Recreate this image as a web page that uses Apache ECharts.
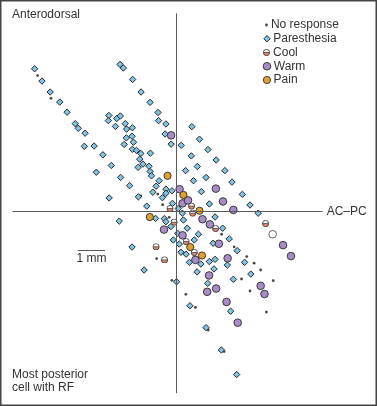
<!DOCTYPE html>
<html>
<head>
<meta charset="utf-8">
<script src="https://cdn.jsdelivr.net/npm/echarts@6/dist/echarts.min.js"></script>
<style>
html, body { margin: 0; padding: 0; background: #fff; }
#main { width: 377px; height: 406px; }
</style>
</head>
<body>
<div id="main"></div>
<script>
// positions in mm, origin at the AC-PC crossing, +y = anterodorsal
const noResponse = [
  [-5.08, 4.97], [-4.59, 4.14], [-1.30, 0.56], [-0.68, 0.63], [-0.50, 0.24], [-0.72, -1.73],
  [-0.16, -2.53], [0.35, -3.04], [0.70, -3.52], [1.17, -4.35], [1.75, -5.14], [1.66, -0.84],
  [2.12, -1.30], [2.58, -1.66], [2.85, -1.90], [3.09, -2.15], [3.55, -2.54], [2.39, -2.48],
  [2.70, -2.92], [3.30, -3.69], [-0.26, -0.22]
]

const paresthesia = [
  [-5.19, 5.22], [-4.92, 4.77], [-4.62, 4.37], [-4.27, 4.00], [-4.00, 3.63], [-3.70, 3.21],
  [-3.59, 3.04], [-3.34, 2.86], [-3.37, 2.38], [-3.01, 2.39], [-2.69, 2.07], [-2.38, 1.68],
  [-2.93, 1.43], [-2.04, 1.24], [-1.71, 0.94], [-1.39, 0.53], [-2.46, 0.49], [-1.08, 0.19],
  [-0.76, -0.26], [-2.09, -0.36], [-1.62, -1.31], [-1.18, -2.15],
  [-2.06, 5.38], [-1.94, 5.25], [-1.60, 4.83], [-1.29, 4.37], [-0.96, 3.99], [-0.67, 3.62],
  [-0.65, 3.32], [-0.38, 3.20], [-0.41, 2.83], [-0.19, 2.46],
  [-2.47, 3.51], [-2.49, 3.32], [-2.18, 3.40], [-2.05, 3.49], [-2.23, 3.11], [-1.87, 3.21],
  [-1.82, 3.01], [-1.61, 3.06], [-1.83, 2.69], [-1.62, 2.75], [-1.91, 2.45], [-1.57, 2.53],
  [-1.61, 2.27], [-1.46, 2.23], [-1.30, 2.12], [-0.95, 2.13], [-1.34, 1.91], [-1.22, 1.73],
  [-1.40, 1.61], [-1.00, 1.65], [-0.96, 1.46], [-0.91, 1.30], [-0.63, 1.12], [-0.74, 0.92],
  [-0.86, 0.70], [-0.38, 0.81], [-0.38, 0.66], [-0.16, 0.75], [-0.51, 0.50], [-0.14, 0.29],
  [0.07, 0.10], [0.22, -0.07], [0.26, -0.32], [-0.44, -0.27], [-0.38, -0.38], [-0.20, -0.56],
  [0.40, -0.62], [0.05, -0.81], [-0.11, -1.05], [0.11, -1.20], [0.66, -1.05], [0.81, -0.84],
  [0.17, -1.50], [0.36, -1.57], [0.48, -1.87], [0.90, -1.93], [1.21, -1.84], [1.42, -1.76],
  [1.35, -1.17], [1.94, -1.01], [2.23, -1.44], [2.50, -1.87], [1.87, -1.97], [1.38, -2.11],
  [0.76, -2.22], [1.15, -2.64], [2.09, -2.49], [2.73, -2.30], [0.01, -2.58], [0.50, -3.46],
  [1.99, -3.66], [1.09, -4.26], [1.65, -5.08], [2.21, -5.98],
  [1.21, 0.27], [1.42, -0.21], [1.70, -0.62], [2.70, 0.23], [3.00, -0.07],
  [0.57, 3.10], [0.85, 2.64], [0.18, 2.42], [1.16, 2.26], [0.55, 2.03], [1.46, 1.88],
  [0.34, 1.49], [0.77, 1.64], [1.78, 1.49], [1.09, 1.24], [0.63, 1.12], [2.04, 1.07],
  [0.92, 0.72], [2.42, 0.62]
]

const cool = [
  [-0.23, 0.10], [0.56, 0.19], [0.60, -0.07], [-0.08, -0.40], [1.44, -0.63], [0.36, -1.11],
  [0.66, -1.51], [-0.74, -1.30], [-0.43, -1.78], [3.27, -0.45]
]

const warm = [
  [-0.19, 2.78], [1.45, 0.83], [0.12, 0.81], [0.23, 0.29], [0.43, 0.40], [1.71, 0.36],
  [2.09, 0.05], [0.96, -0.29], [1.23, -0.48], [-0.45, -0.67], [0.23, -0.88], [1.56, -1.19],
  [0.70, -1.78], [1.88, -1.72], [1.20, -2.35], [1.13, -2.95], [1.46, -2.83], [1.84, -3.32],
  [2.25, -4.08], [3.09, -2.73], [3.23, -3.03], [3.91, -1.24], [4.20, -1.64]
]

const pain = [
  [-0.32, 1.30], [0.26, 0.60], [0.85, 0.02], [-0.97, -0.21], [0.51, -1.31], [0.94, -1.62]
]

const unfilled = [[3.53, -0.84]]

// guide lines (mm)
const acpcLine = [[-6.0, 0], [5.36, 0]]
const verticalLine = [[0, -6.66], [0, 7.25]]
const scaleBar = [[-3.61, -1.42], [-2.61, -1.42]]

const W = 377, H = 406
const ORIGIN = [176.3, 211.3]
const PX_PER_MM = 27.3
const FONT = "'Liberation Sans', Arial, sans-serif"
const TEXT_COLOR = '#333'
const EDGE = '#2a2a2a'

const coolSvg = "<svg xmlns='http://www.w3.org/2000/svg' width='20' height='20' viewBox='0 0 20 20'>" +
  "<circle cx='10' cy='10' r='8.7' fill='#ffffff'/>" +
  "<path d='M1.3 10A8.7 8.7 0 0 0 18.7 10Z' fill='#e2896a'/>" +
  "<circle cx='10' cy='10' r='8.7' fill='none' stroke='#333' stroke-width='2.3'/>" +
  "<line x1='1.3' y1='10' x2='18.7' y2='10' stroke='#333' stroke-width='2'/></svg>"
const coolSymbol = 'image://data:image/svg+xml;charset=utf-8,' + encodeURIComponent(coolSvg)

const kinds = [
  { name: 'No response', data: noResponse, symbol: 'circle', size: 2.8, color: '#4a4838', border: 0 },
  { name: 'Paresthesia', data: paresthesia, symbol: 'diamond', size: 6.4, color: '#7fc4e4', border: 1 },
  { name: 'Cool', data: cool, symbol: coolSymbol, size: 7.2, color: '#e2896a', border: 0 },
  { name: 'Warm', data: warm, symbol: 'circle', size: 7.6, color: '#a98bc8', border: 0.9 },
  { name: 'Pain', data: pain, symbol: 'circle', size: 7.2, color: '#e0a030', border: 0.9 }
]

function lineItem(pair, label) {
  const item = [{ coord: pair[0] }, { coord: pair[1] }]
  if (label) item[0].label = label
  else item[0].label = { show: false }
  return item
}

const series = kinds.map(k => ({
  name: k.name,
  type: 'scatter',
  data: k.data,
  symbol: k.symbol,
  symbolSize: k.size,
  itemStyle: { color: k.color, borderColor: EDGE, borderWidth: k.border, opacity: 1 },
  emphasis: { disabled: true }
}))

series.push({
  name: 'Unfilled',
  type: 'scatter',
  data: unfilled,
  symbol: 'circle',
  symbolSize: 7.6,
  itemStyle: { color: '#fff', borderColor: EDGE, borderWidth: 0.9 },
  emphasis: { disabled: true }
})

series.unshift({
  name: 'guides',
  type: 'scatter',
  data: [],
  z: 1,
  markLine: {
    silent: true,
    symbol: 'none',
    animation: false,
    lineStyle: { color: '#5a5a5a', width: 1, type: 'solid' },
    data: [
      lineItem(acpcLine, {
        show: true, position: 'end', formatter: 'AC\u2013PC', distance: 4,
        fontFamily: FONT, fontSize: 12, color: TEXT_COLOR
      }),
      lineItem(verticalLine),
      lineItem(scaleBar, {
        show: true, position: 'insideMiddleBottom', formatter: '1 mm', distance: 3,
        fontFamily: FONT, fontSize: 12, color: TEXT_COLOR
      })
    ]
  }
})

const legends = kinds.map((k, i) => ({
  data: [k.name],
  selectedMode: false,
  orient: 'vertical',
  left: 266.5 - k.size / 2,
  top: 25 + i * 13.75 - 7,
  padding: 0,
  itemWidth: k.size,
  itemHeight: k.size,
  icon: k.symbol,
  itemStyle: { borderColor: EDGE, borderWidth: k.border },
  textStyle: { fontFamily: FONT, fontSize: 12, color: TEXT_COLOR, lineHeight: 14, padding: [0, 0, 0, -2] }
}))

const chart = echarts.init(document.getElementById('main'), null, { renderer: 'canvas' })
chart.setOption({
  animation: false,
  backgroundColor: '#fff',
  grid: { left: 0, right: 0, top: 0, bottom: 0 },
  xAxis: {
    type: 'value',
    min: -ORIGIN[0] / PX_PER_MM,
    max: (W - ORIGIN[0]) / PX_PER_MM,
    show: false
  },
  yAxis: {
    type: 'value',
    min: -(H - ORIGIN[1]) / PX_PER_MM,
    max: ORIGIN[1] / PX_PER_MM,
    show: false
  },
  legend: legends,
  series: series,
  graphic: [
    {
      type: 'rect', silent: true, z: 100,
      shape: { x: 0.75, y: 0.75, width: W - 1.5, height: H - 1.5 },
      style: { fill: null, stroke: '#444', lineWidth: 1.5 }
    },
    {
      type: 'text', left: 12, top: 9,
      style: { text: 'Anterodorsal', font: '12px ' + FONT, fill: TEXT_COLOR }
    },
    {
      type: 'text', left: 12, top: 368,
      style: { text: 'Most posterior\ncell with RF', font: '12px ' + FONT, fill: TEXT_COLOR, lineHeight: 13.3 }
    }
  ]
})
</script>
</body>
</html>
